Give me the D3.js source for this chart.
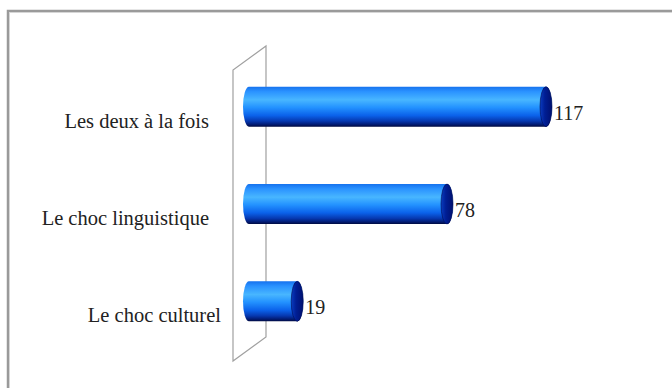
<!DOCTYPE html>
<html>
<head>
<meta charset="utf-8">
<script src="https://cdn.jsdelivr.net/npm/d3@7"></script>
<style>
  html, body { margin: 0; padding: 0; background: #fff; }
  svg { display: block; }
</style>
</head>
<body>
<svg id="chart" width="672" height="388"></svg>
<script>
// Réponses : type de choc ressenti
const categories = ["Les deux à la fois", "Le choc linguistique", "Le choc culturel"];
const values = [117, 78, 19];

const W = 672, H = 388;
const svg = d3.select("#chart");

const defs = svg.append("defs");

// Cylinder body shading (vertical)
const body = defs.append("linearGradient")
  .attr("id", "cylBody").attr("x1", 0).attr("y1", 0).attr("x2", 0).attr("y2", 1);
[
  [0, "#1672ee"], [0.12, "#2a92ff"], [0.33, "#48b6ff"], [0.52, "#2392ff"],
  [0.72, "#0b62ea"], [0.86, "#0638b0"], [0.95, "#021a70"], [1, "#000a40"]
].forEach(([o, c]) => body.append("stop").attr("offset", o).attr("stop-color", c));

// End cap shading
const cap = defs.append("linearGradient")
  .attr("id", "cylCap").attr("x1", 0).attr("y1", 0).attr("x2", 1).attr("y2", 0);
[[0, "#0a3cc0"], [0.4, "#001e94"], [1, "#001070"]]
  .forEach(([o, c]) => cap.append("stop").attr("offset", o).attr("stop-color", c));

// Chart area frame (open to the right and bottom)
svg.append("rect")
  .attr("x", 8).attr("y", 11).attr("width", W + 20).attr("height", H + 20)
  .attr("fill", "none").attr("stroke", "#9a9a9a").attr("stroke-width", 2.5);
svg.append("rect")
  .attr("x", 9.5).attr("y", 12.5).attr("width", W + 20).attr("height", H + 20)
  .attr("fill", "none").attr("stroke", "#d6d6d6").attr("stroke-width", 1);

// Scales
const y = d3.scalePoint().domain(categories).range([58, 350]).padding(0.5);
const x = d3.scaleLinear().domain([0, 117]).range([249, 546]);

const barH = 40;          // cylinder diameter on screen
const rx = 6;             // ellipse depth of the cylinder ends
const depthX = 33, depthY = 24; // perspective offset of the back wall

// Back wall (category axis plane)
const wallTop = y.range()[0] + 12, wallBot = y.range()[1] + 11;
const wx = x(0) - 16;
svg.append("path")
  .attr("d", `M${wx},${wallBot} L${wx},${wallTop} L${wx + depthX},${wallTop - depthY}
              L${wx + depthX},${wallBot - depthY} Z`)
  .attr("fill", "none").attr("stroke", "#a0a0a0").attr("stroke-width", 1.2);

// Cylinders
const bars = svg.append("g").selectAll("g")
  .data(categories.map((c, i) => ({ c, v: values[i] })))
  .join("g");

bars.append("path")
  .attr("d", d => {
    const x0 = x(0), x1 = x(d.v);
    const t = y(d.c) - barH / 2, b = y(d.c) + barH / 2, ry = barH / 2;
    return `M${x0},${t} L${x1},${t} A${rx},${ry} 0 0 1 ${x1},${b}
            L${x0},${b} A${rx},${ry} 0 0 1 ${x0},${t} Z`;
  })
  .attr("fill", "url(#cylBody)");

bars.append("ellipse")
  .attr("cx", d => x(d.v)).attr("cy", d => y(d.c))
  .attr("rx", rx).attr("ry", barH / 2)
  .attr("fill", "url(#cylCap)")
  .attr("stroke", "#000a50").attr("stroke-width", 0.6);

// Value labels
bars.append("text")
  .attr("x", d => x(d.v) + rx + 2)
  .attr("y", d => y(d.c) + 13)
  .attr("font-family", "Liberation Serif, Times New Roman, serif")
  .attr("font-size", 20)
  .attr("fill", "#222")
  .text(d => d.v);

// Category labels, set just left of the wall (the lowest sits a little closer)
svg.append("g").selectAll("text")
  .data(categories)
  .join("text")
  .attr("x", (d, i) => wx - 24 + (i === categories.length - 1 ? 12 : 0))
  .attr("y", d => y(d) + 21)
  .attr("text-anchor", "end")
  .attr("font-family", "Liberation Serif, Times New Roman, serif")
  .attr("font-size", 20.5)
  .attr("fill", "#222")
  .text(d => d);
</script>
</body>
</html>
